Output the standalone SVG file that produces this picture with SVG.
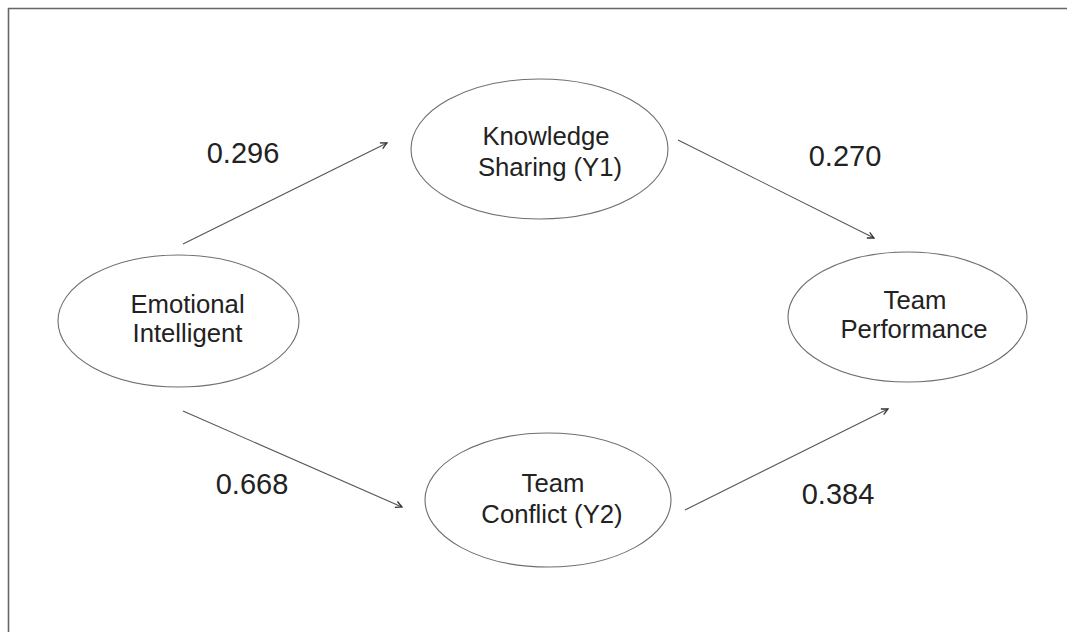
<svg xmlns="http://www.w3.org/2000/svg" width="1067" height="632" viewBox="0 0 1067 632">
<style>
.node ellipse{fill:#fff;stroke:#6e6e6e;stroke-width:1.1}
.lbl{font-family:"Liberation Sans",Arial,sans-serif;font-size:25.7px;fill:#222;text-anchor:middle}
.num{font-family:"Liberation Sans",Arial,sans-serif;font-size:29px;fill:#222;text-anchor:middle}
.edge{stroke:#555;stroke-width:1.1;fill:none;marker-end:url(#ah)}
</style>
<defs>
<marker id="ah" viewBox="0 0 10 10" refX="9" refY="5" markerWidth="8" markerHeight="8" markerUnits="userSpaceOnUse" orient="auto">
<path d="M1,1 L9,5 L1,9" fill="none" stroke="#333" stroke-width="1.6"/>
</marker>
</defs>
<rect width="1067" height="632" fill="#fff"/>
<path d="M8.5,632 V8.5 H1067" fill="none" stroke="#666" stroke-width="1.6"/>
<g id="connectors">
<line class="edge" x1="183" y1="244" x2="387" y2="143"/>
<line class="edge" x1="678" y1="140" x2="874" y2="238"/>
<line class="edge" x1="183" y1="411" x2="402" y2="507"/>
<line class="edge" x1="685" y1="510" x2="888" y2="409"/>
</g>
<g id="edge-labels">
<text class="num" x="243" y="163">0.296</text>
<text class="num" x="845" y="166">0.270</text>
<text class="num" x="252" y="494">0.668</text>
<text class="num" x="838" y="504">0.384</text>
</g>
<g id="emotional-intelligent" class="node">
<ellipse cx="178.5" cy="321" rx="120.5" ry="66"/>
<text class="lbl" x="187.5" y="313">Emotional</text>
<text class="lbl" x="187.5" y="342">Intelligent</text>
</g>
<g id="knowledge-sharing" class="node">
<ellipse cx="539.5" cy="149" rx="128.5" ry="70"/>
<text class="lbl" x="546" y="145">Knowledge</text>
<text class="lbl" x="550" y="176">Sharing (Y1)</text>
</g>
<g id="team-performance" class="node">
<ellipse cx="907.5" cy="317" rx="119.5" ry="65"/>
<text class="lbl" x="915" y="309">Team</text>
<text class="lbl" x="914" y="338">Performance</text>
</g>
<g id="team-conflict" class="node">
<ellipse cx="548" cy="500" rx="123" ry="67"/>
<text class="lbl" x="553" y="492">Team</text>
<text class="lbl" x="552" y="523">Conflict (Y2)</text>
</g>
</svg>
